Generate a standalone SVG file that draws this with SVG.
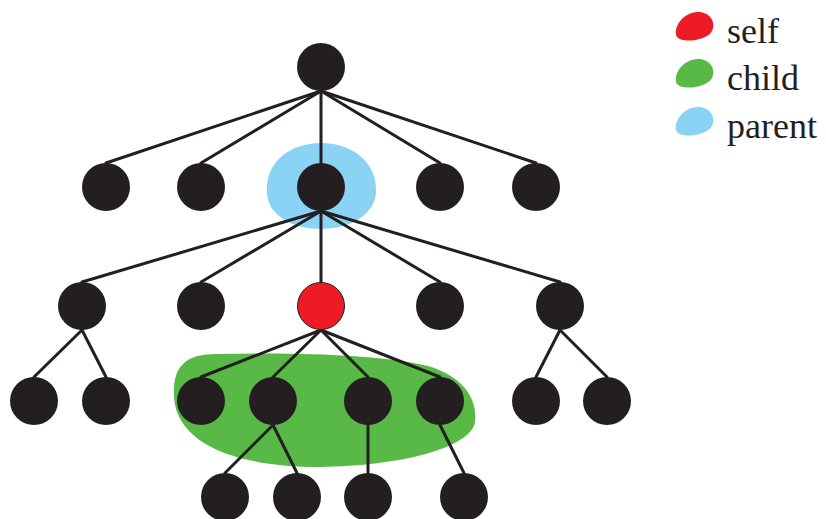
<svg xmlns="http://www.w3.org/2000/svg" width="826" height="519" viewBox="0 0 826 519">
<style>
.n{fill:#231f20}
.self{fill:#ed1c24;stroke:#231f20;stroke-width:1}
.e{stroke:#231f20;stroke-width:3;fill:none;stroke-linecap:round}
.lbl{font-family:"Liberation Serif","Times New Roman",serif;font-size:36px;fill:#231f20}
.red{fill:#ed1c24}.green{fill:#58b947}.blue{fill:#8ad3f4}
</style>
<rect width="826" height="519" fill="#ffffff"/>
<g id="highlights">
<path class="blue" d="M267,193 C265,162 290,143 321,143 C354,143 378,164 376,193 C374,215 350,229 321,229 C292,229 268,215 267,193 Z"/>
<path class="green" d="M174,398 C172,366 186,354 216,354 C300,352 385,355 428,366 C462,376 478,398 475,422 C471,448 400,466 320,467 C240,467 178,446 174,398 Z"/>
</g>
<g id="connectors" class="e">
<line x1="321" y1="91" x2="106" y2="163"/>
<line x1="321" y1="91" x2="201" y2="163"/>
<line x1="321" y1="91" x2="321" y2="163"/>
<line x1="321" y1="91" x2="440" y2="163"/>
<line x1="321" y1="91" x2="536" y2="163"/>
<line x1="321" y1="211" x2="82" y2="282"/>
<line x1="321" y1="211" x2="201" y2="282"/>
<line x1="321" y1="211" x2="321" y2="282"/>
<line x1="321" y1="211" x2="440" y2="282"/>
<line x1="321" y1="211" x2="560" y2="282"/>
<line x1="82" y1="330" x2="34" y2="377"/>
<line x1="82" y1="330" x2="106" y2="377"/>
<line x1="321" y1="330" x2="201" y2="377"/>
<line x1="321" y1="330" x2="273" y2="377"/>
<line x1="321" y1="330" x2="368" y2="377"/>
<line x1="321" y1="330" x2="440" y2="377"/>
<line x1="560" y1="330" x2="536" y2="377"/>
<line x1="560" y1="330" x2="607" y2="377"/>
<line x1="273" y1="425" x2="225" y2="473"/>
<line x1="273" y1="425" x2="297" y2="473"/>
<line x1="368" y1="425" x2="368" y2="473"/>
<line x1="440" y1="425" x2="464" y2="473"/>
</g>
<g id="nodes">
<g id="root"><circle class="n" cx="321" cy="67" r="24"/></g>
<g id="a1"><circle class="n" cx="106" cy="187" r="24"/></g>
<g id="a2"><circle class="n" cx="201" cy="187" r="24"/></g>
<g id="parent"><circle class="n" cx="321" cy="187" r="24"/></g>
<g id="a4"><circle class="n" cx="440" cy="187" r="24"/></g>
<g id="a5"><circle class="n" cx="536" cy="187" r="24"/></g>
<g id="b1"><circle class="n" cx="82" cy="306" r="24"/></g>
<g id="b2"><circle class="n" cx="201" cy="306" r="24"/></g>
<g id="self"><circle class="self" cx="321" cy="306" r="23.5"/></g>
<g id="b4"><circle class="n" cx="440" cy="306" r="24"/></g>
<g id="b5"><circle class="n" cx="560" cy="306" r="24"/></g>
<g id="c1"><circle class="n" cx="34" cy="401" r="24"/></g>
<g id="c2"><circle class="n" cx="106" cy="401" r="24"/></g>
<g id="c3"><circle class="n" cx="201" cy="401" r="24"/></g>
<g id="c4"><circle class="n" cx="273" cy="401" r="24"/></g>
<g id="c5"><circle class="n" cx="368" cy="401" r="24"/></g>
<g id="c6"><circle class="n" cx="440" cy="401" r="24"/></g>
<g id="c7"><circle class="n" cx="536" cy="401" r="24"/></g>
<g id="c8"><circle class="n" cx="607" cy="401" r="24"/></g>
<g id="d1"><circle class="n" cx="225" cy="497" r="24"/></g>
<g id="d2"><circle class="n" cx="297" cy="497" r="24"/></g>
<g id="d3"><circle class="n" cx="368" cy="497" r="24"/></g>
<g id="d4"><circle class="n" cx="464" cy="497" r="24"/></g>
</g>
<g id="legend">
<path class="red" d="M677,37 C672,28 683,12 698,12 C710,12 716,22 712,31 C708,40 683,44 677,37 Z"/>
<text class="lbl" x="727" y="43">self</text>
<path class="green" d="M677,84 C672,75 683,59 698,59 C710,59 716,69 712,78 C708,87 683,91 677,84 Z"/>
<text class="lbl" x="727" y="90">child</text>
<path class="blue" d="M677,132 C672,123 683,107 698,107 C710,107 716,117 712,126 C708,135 683,139 677,132 Z"/>
<text class="lbl" x="727" y="138">parent</text>
</g>
</svg>
